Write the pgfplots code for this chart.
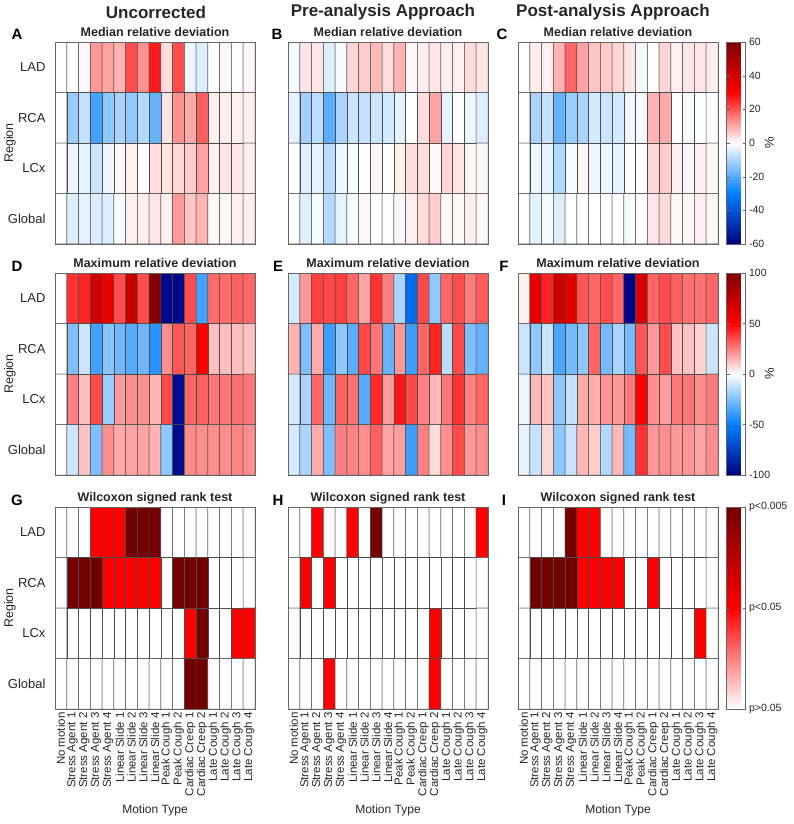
\documentclass[border=0pt]{standalone}
\usepackage{fontspec}
\setmainfont{Liberation Sans}
\usepackage{pgfplots}
\pgfplotsset{compat=1.18}
\pgfplotsset{
  colormap={bwr}{rgb=(0,0,0.5) rgb=(0,0.5,1) rgb=(1,1,1) rgb=(1,0,0) rgb=(0.5,0,0)},
  colormap={pv}{rgb=(1,1,1) rgb=(1,0,0) rgb=(0.45,0,0)},
  hm/.style={
    scale only axis, width=200pt, height=202pt, anchor=north west,
    xmin=-0.5, xmax=16.5, ymin=-0.5, ymax=3.5, y dir=reverse,
    xtick=\empty, ytick=\empty,
    major tick length=0pt,
    axis on top,
    axis line style={black!60, line width=0.6pt},
    title style={font=\bfseries\fontsize{12.5}{13}\selectfont, at={(0.5,1)}, anchor=base, yshift=0pt, text=black!85},
  },
  cells/.style={matrix plot*, shader=faceted, faceted color=black!70, line width=0.5pt, mesh/cols=17, point meta=explicit},
  lefty/.style={
    ytick={0,1,2,3}, yticklabels={LAD,RCA,LCx,Global},
    yticklabel style={font=\fontsize{13}{13}\selectfont, text=black!85, xshift=-6pt},
    ylabel={Region}, ylabel style={font=\fontsize{12.5}{12.5}\selectfont, text=black!85, at={(axis description cs:-0.225,0.5)}, anchor=center},
  },
  botx/.style={
    xtick={0,...,16},
    xticklabels={No motion,Stress Agent 1,Stress Agent 2,Stress Agent 3,Stress Agent 4,Linear Slide 1,Linear Slide 2,Linear Slide 3,Linear Slide 4,Peak Cough 1,Peak Cough 2,Cardiac Creep 1,Cardiac Creep 2,Late Cough 1,Late Cough 2,Late Cough 3,Late Cough 4},
    xticklabel style={rotate=90, anchor=east, font=\fontsize{11.5}{11.5}\selectfont, text=black!85},
    xlabel={Motion Type}, xlabel style={font=\fontsize{12}{12}\selectfont, text=black!85, yshift=-2pt},
  },
  cb/.style={
    colorbar,
    colorbar style={
      at={(parent axis.north east)}, anchor=north west,
      width=19pt,
      yticklabel style={font=\fontsize{10.5}{11}\selectfont, text=black!85, /pgf/number format/assume math mode=true},
      ylabel style={font=\fontsize{13}{13}\selectfont, text=black!85, at={(axis description cs:2.25,0.5)}, anchor=center},
      axis line style={black!60},
      major tick length=3pt, tick style={black!60},
    },
  },
}
\begin{document}
\begin{tikzpicture}
\useasboundingbox (0,0) rectangle (793pt,-824pt);
% main titles
\node[font=\bfseries\fontsize{17}{17}\selectfont, text=black!85] at (156pt,-12pt) {Uncorrected};
\node[font=\bfseries\fontsize{17}{17}\selectfont, text=black!85] at (383pt,-12pt) {Pre-analysis Approach};
\node[font=\bfseries\fontsize{17}{17}\selectfont, text=black!85] at (613pt,-12pt) {Post-analysis Approach};
% panel letters
\foreach \l/\x/\y in {A/17/40,B/277/40,C/502/40,D/17/271,E/278/271,F/504/271,G/17/505,H/278/505,I/504/505}
  \node[font=\bfseries\fontsize{15}{15}\selectfont, anchor=base] at (\x pt,-\y pt) {\l};

% ---------- Row 1: median ----------
\begin{axis}[hm, lefty, at={(55pt,-42pt)}, colormap name=bwr, point meta min=-60, point meta max=60, title={Median relative deviation}]
\addplot[cells] coordinates {
(0,0)[0] (1,0)[0] (2,0)[1] (3,0)[12] (4,0)[11] (5,0)[9] (6,0)[21] (7,0)[13] (8,0)[27] (9,0)[4] (10,0)[21] (11,0)[-2] (12,0)[-4] (13,0)[0] (14,0)[1] (15,0)[0] (16,0)[1]
(0,1)[0] (1,1)[-12] (2,1)[-7] (3,1)[-22] (4,1)[-13] (5,1)[-10] (6,1)[-13] (7,1)[-9] (8,1)[-18] (9,1)[3] (10,1)[13] (11,1)[10] (12,1)[19] (13,1)[2] (14,1)[2] (15,1)[2] (16,1)[2]
(0,2)[0] (1,2)[-2] (2,2)[-3] (3,2)[-6] (4,2)[-2] (5,2)[1] (6,2)[2] (7,2)[0] (8,2)[4] (9,2)[3] (10,2)[5] (11,2)[6] (12,2)[11] (13,2)[2] (14,2)[3] (15,2)[3] (16,2)[2]
(0,3)[0] (1,3)[-4] (2,3)[-3] (3,3)[-4] (4,3)[-4] (5,3)[-1] (6,3)[2] (7,3)[2] (8,3)[3] (9,3)[2] (10,3)[12] (11,3)[7] (12,3)[9] (13,3)[1] (14,3)[1] (15,3)[2] (16,3)[2]
};
\end{axis}
\begin{axis}[hm, at={(288pt,-42pt)}, colormap name=bwr, point meta min=-60, point meta max=60, title={Median relative deviation}]
\addplot[cells] coordinates {
(0,0)[-1] (1,0)[3] (2,0)[3] (3,0)[-4] (4,0)[-1] (5,0)[5] (6,0)[6] (7,0)[8] (8,0)[4] (9,0)[9] (10,0)[1] (11,0)[2] (12,0)[3] (13,0)[2] (14,0)[2] (15,0)[4] (16,0)[3]
(0,1)[-3] (1,1)[-11] (2,1)[-8] (3,1)[-19] (4,1)[-10] (5,1)[-6] (6,1)[-7] (7,1)[-6] (8,1)[-5] (9,1)[-3] (10,1)[0] (11,1)[4] (12,1)[11] (13,1)[-3] (14,1)[0] (15,1)[-2] (16,1)[-4]
(0,2)[0] (1,2)[-4] (2,2)[-3] (3,2)[-8] (4,2)[-2] (5,2)[-1] (6,2)[0] (7,2)[1] (8,2)[0] (9,2)[2] (10,2)[4] (11,2)[4] (12,2)[1] (13,2)[5] (14,2)[3] (15,2)[1] (16,2)[1]
(0,3)[0] (1,3)[-4] (2,3)[-1] (3,3)[-9] (4,3)[-3] (5,3)[-1] (6,3)[1] (7,3)[0] (8,3)[0] (9,3)[1] (10,3)[2] (11,3)[4] (12,3)[6] (13,3)[1] (14,3)[1] (15,3)[2] (16,3)[1]
};
\end{axis}
\begin{axis}[hm, cb, at={(518pt,-42pt)}, colormap name=bwr, point meta min=-60, point meta max=60, title={Median relative deviation},
  colorbar style={ytick={-60,-40,...,60}, ylabel={\%}}]
\addplot[cells] coordinates {
(0,0)[0] (1,0)[2] (2,0)[2] (3,0)[9] (4,0)[18] (5,0)[11] (6,0)[7] (7,0)[6] (8,0)[5] (9,0)[3] (10,0)[-1] (11,0)[0] (12,0)[5] (13,0)[2] (14,0)[3] (15,0)[3] (16,0)[2]
(0,1)[0] (1,1)[-10] (2,1)[-7] (3,1)[-18] (4,1)[-12] (5,1)[-10] (6,1)[-5] (7,1)[-6] (8,1)[-5] (9,1)[-2] (10,1)[-1] (11,1)[9] (12,1)[10] (13,1)[0] (14,1)[-1] (15,1)[0] (16,1)[0]
(0,2)[0] (1,2)[-2] (2,2)[-3] (3,2)[-9] (4,2)[-1] (5,2)[1] (6,2)[-2] (7,2)[-2] (8,2)[-3] (9,2)[0] (10,2)[0] (11,2)[5] (12,2)[6] (13,2)[2] (14,2)[1] (15,2)[2] (16,2)[1]
(0,3)[0] (1,3)[-3] (2,3)[-1] (3,3)[-4] (4,3)[0] (5,3)[0] (6,3)[0] (7,3)[0] (8,3)[0] (9,3)[-1] (10,3)[0] (11,3)[3] (12,3)[4] (13,3)[1] (14,3)[1] (15,3)[2] (16,3)[1]
};
\end{axis}

% ---------- Row 2: maximum ----------
\begin{axis}[hm, lefty, at={(55pt,-273pt)}, colormap name=bwr, point meta min=-100, point meta max=100, title={Maximum relative deviation}]
\addplot[cells] coordinates {
(0,0)[0] (1,0)[40] (2,0)[43] (3,0)[70] (4,0)[58] (5,0)[35] (6,0)[72] (7,0)[35] (8,0)[98] (9,0)[-97] (10,0)[-97] (11,0)[35] (12,0)[-37] (13,0)[29] (14,0)[29] (15,0)[31] (16,0)[30]
(0,1)[0] (1,1)[-25] (2,1)[-10] (3,1)[-37] (4,1)[-23] (5,1)[-28] (6,1)[-33] (7,1)[-28] (8,1)[-42] (9,1)[22] (10,1)[33] (11,1)[30] (12,1)[52] (13,1)[13] (14,1)[13] (15,1)[13] (16,1)[12]
(0,2)[0] (1,2)[25] (2,2)[13] (3,2)[36] (4,2)[-20] (5,2)[19] (6,2)[22] (7,2)[22] (8,2)[15] (9,2)[36] (10,2)[-95] (11,2)[30] (12,2)[31] (13,2)[27] (14,2)[27] (15,2)[28] (16,2)[27]
(0,3)[0] (1,3)[-10] (2,3)[12] (3,3)[-25] (4,3)[22] (5,3)[17] (6,3)[18] (7,3)[18] (8,3)[15] (9,3)[-22] (10,3)[-95] (11,3)[23] (12,3)[22] (13,3)[22] (14,3)[22] (15,3)[24] (16,3)[22]
};
\end{axis}
\begin{axis}[hm, at={(288pt,-273pt)}, colormap name=bwr, point meta min=-100, point meta max=100, title={Maximum relative deviation}]
\addplot[cells] coordinates {
(0,0)[-8] (1,0)[20] (2,0)[38] (3,0)[36] (4,0)[38] (5,0)[30] (6,0)[18] (7,0)[40] (8,0)[25] (9,0)[-17] (10,0)[-58] (11,0)[36] (12,0)[-22] (13,0)[30] (14,0)[35] (15,0)[26] (16,0)[32]
(0,1)[15] (1,1)[-25] (2,1)[17] (3,1)[-38] (4,1)[-22] (5,1)[-32] (6,1)[36] (7,1)[27] (8,1)[-30] (9,1)[20] (10,1)[-38] (11,1)[30] (12,1)[43] (13,1)[-13] (14,1)[36] (15,1)[-25] (16,1)[-30]
(0,2)[-8] (1,2)[-17] (2,2)[30] (3,2)[-28] (4,2)[31] (5,2)[28] (6,2)[-33] (7,2)[42] (8,2)[20] (9,2)[46] (10,2)[36] (11,2)[25] (12,2)[14] (13,2)[27] (14,2)[40] (15,2)[25] (16,2)[30]
(0,3)[-8] (1,3)[-17] (2,3)[17] (3,3)[-25] (4,3)[25] (5,3)[24] (6,3)[22] (7,3)[31] (8,3)[18] (9,3)[19] (10,3)[-38] (11,3)[25] (12,3)[7] (13,3)[22] (14,3)[35] (15,3)[20] (16,3)[22]
};
\end{axis}
\begin{axis}[hm, cb, at={(518pt,-273pt)}, colormap name=bwr, point meta min=-100, point meta max=100, title={Maximum relative deviation},
  colorbar style={ytick={-100,-50,...,100}, ylabel={\%}}]
\addplot[cells] coordinates {
(0,0)[3] (1,0)[60] (2,0)[43] (3,0)[70] (4,0)[62] (5,0)[33] (6,0)[30] (7,0)[35] (8,0)[30] (9,0)[-98] (10,0)[65] (11,0)[30] (12,0)[35] (13,0)[31] (14,0)[28] (15,0)[28] (16,0)[30]
(0,1)[-10] (1,1)[-22] (2,1)[-11] (3,1)[-35] (4,1)[-27] (5,1)[-22] (6,1)[30] (7,1)[-27] (8,1)[-17] (9,1)[-27] (10,1)[33] (11,1)[20] (12,1)[35] (13,1)[12] (14,1)[12] (15,1)[9] (16,1)[-10]
(0,2)[-4] (1,2)[14] (2,2)[12] (3,2)[-22] (4,2)[-12] (5,2)[17] (6,2)[16] (7,2)[21] (8,2)[20] (9,2)[27] (10,2)[50] (11,2)[22] (12,2)[19] (13,2)[27] (14,2)[27] (15,2)[22] (16,2)[26]
(0,3)[-5] (1,3)[-11] (2,3)[8] (3,3)[-22] (4,3)[-11] (5,3)[14] (6,3)[10] (7,3)[-15] (8,3)[14] (9,3)[-27] (10,3)[40] (11,3)[20] (12,3)[22] (13,3)[20] (14,3)[21] (15,3)[18] (16,3)[22]
};
\end{axis}

% ---------- Row 3: Wilcoxon ----------
\begin{axis}[hm, lefty, botx, at={(55pt,-507pt)}, colormap name=pv, point meta min=0, point meta max=2, title={Wilcoxon signed rank test}]
\addplot[cells] coordinates {
(0,0)[0] (1,0)[0] (2,0)[0] (3,0)[1] (4,0)[1] (5,0)[1] (6,0)[2] (7,0)[2] (8,0)[2] (9,0)[0] (10,0)[0] (11,0)[0] (12,0)[0] (13,0)[0] (14,0)[0] (15,0)[0] (16,0)[0]
(0,1)[0] (1,1)[2] (2,1)[2] (3,1)[2] (4,1)[1] (5,1)[1] (6,1)[1] (7,1)[1] (8,1)[1] (9,1)[0] (10,1)[2] (11,1)[2] (12,1)[2] (13,1)[0] (14,1)[0] (15,1)[0] (16,1)[0]
(0,2)[0] (1,2)[0] (2,2)[0] (3,2)[0] (4,2)[0] (5,2)[0] (6,2)[0] (7,2)[0] (8,2)[0] (9,2)[0] (10,2)[0] (11,2)[1] (12,2)[2] (13,2)[0] (14,2)[0] (15,2)[1] (16,2)[1]
(0,3)[0] (1,3)[0] (2,3)[0] (3,3)[0] (4,3)[0] (5,3)[0] (6,3)[0] (7,3)[0] (8,3)[0] (9,3)[0] (10,3)[0] (11,3)[2] (12,3)[2] (13,3)[0] (14,3)[0] (15,3)[0] (16,3)[0]
};
\end{axis}
\begin{axis}[hm, botx, at={(288pt,-507pt)}, colormap name=pv, point meta min=0, point meta max=2, title={Wilcoxon signed rank test}]
\addplot[cells] coordinates {
(0,0)[0] (1,0)[0] (2,0)[1] (3,0)[0] (4,0)[0] (5,0)[1] (6,0)[0] (7,0)[2] (8,0)[0] (9,0)[0] (10,0)[0] (11,0)[0] (12,0)[0] (13,0)[0] (14,0)[0] (15,0)[0] (16,0)[1]
(0,1)[0] (1,1)[1] (2,1)[0] (3,1)[1] (4,1)[0] (5,1)[0] (6,1)[0] (7,1)[0] (8,1)[0] (9,1)[0] (10,1)[0] (11,1)[0] (12,1)[0] (13,1)[0] (14,1)[0] (15,1)[0] (16,1)[0]
(0,2)[0] (1,2)[0] (2,2)[0] (3,2)[0] (4,2)[0] (5,2)[0] (6,2)[0] (7,2)[0] (8,2)[0] (9,2)[0] (10,2)[0] (11,2)[0] (12,2)[1] (13,2)[0] (14,2)[0] (15,2)[0] (16,2)[0]
(0,3)[0] (1,3)[0] (2,3)[0] (3,3)[1] (4,3)[0] (5,3)[0] (6,3)[0] (7,3)[0] (8,3)[0] (9,3)[0] (10,3)[0] (11,3)[0] (12,3)[1] (13,3)[0] (14,3)[0] (15,3)[0] (16,3)[0]
};
\end{axis}
\begin{axis}[hm, botx, cb, at={(518pt,-507pt)}, colormap name=pv, point meta min=0, point meta max=2, title={Wilcoxon signed rank test},
  colorbar style={ytick={0,1,2}, yticklabels={p>0.05,p<0.05,p<0.005}}]
\addplot[cells] coordinates {
(0,0)[0] (1,0)[0] (2,0)[0] (3,0)[0] (4,0)[2] (5,0)[1] (6,0)[1] (7,0)[0] (8,0)[0] (9,0)[0] (10,0)[0] (11,0)[0] (12,0)[0] (13,0)[0] (14,0)[0] (15,0)[0] (16,0)[0]
(0,1)[0] (1,1)[2] (2,1)[2] (3,1)[2] (4,1)[2] (5,1)[1] (6,1)[1] (7,1)[1] (8,1)[1] (9,1)[0] (10,1)[0] (11,1)[1] (12,1)[0] (13,1)[0] (14,1)[0] (15,1)[0] (16,1)[0]
(0,2)[0] (1,2)[0] (2,2)[0] (3,2)[0] (4,2)[0] (5,2)[0] (6,2)[0] (7,2)[0] (8,2)[0] (9,2)[0] (10,2)[0] (11,2)[0] (12,2)[0] (13,2)[0] (14,2)[0] (15,2)[1] (16,2)[0]
(0,3)[0] (1,3)[0] (2,3)[0] (3,3)[0] (4,3)[0] (5,3)[0] (6,3)[0] (7,3)[0] (8,3)[0] (9,3)[0] (10,3)[0] (11,3)[0] (12,3)[0] (13,3)[0] (14,3)[0] (15,3)[0] (16,3)[0]
};
\end{axis}
\end{tikzpicture}
\end{document}
